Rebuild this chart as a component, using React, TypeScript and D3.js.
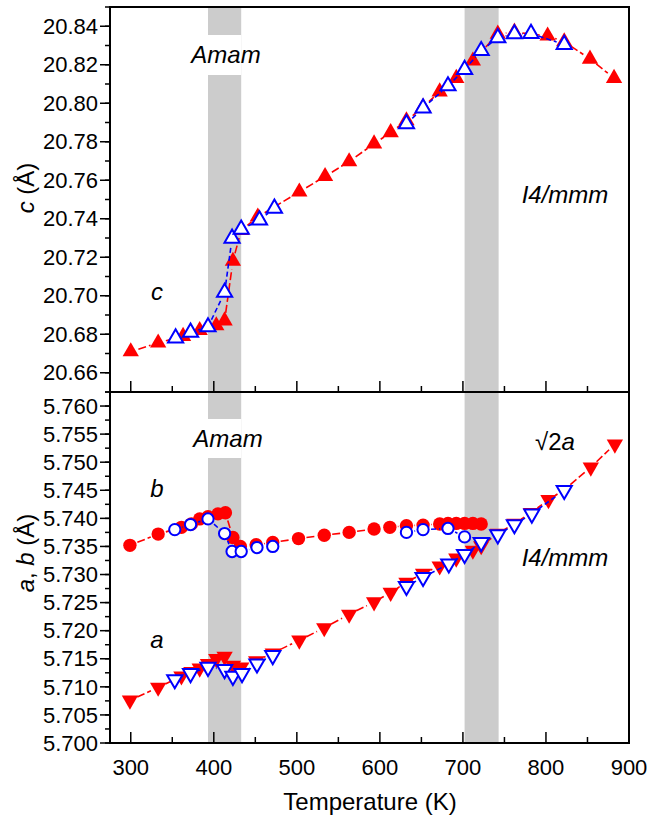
import { scaleLinear, symbol, symbolTriangle, symbolCircle, range, format } from 'd3';

// temperatures (K) and lattice constants (Å)
const cRedT = [300, 333, 363, 383, 403, 413, 423, 433, 453, 503, 534, 563, 593, 613, 632, 652, 672, 692, 712, 742, 762, 802, 822, 853, 882];
const cRedV = [20.671, 20.6755, 20.679, 20.682, 20.6845, 20.687, 20.718, 20.734, 20.741, 20.754, 20.762, 20.7697, 20.779, 20.7848, 20.791, 20.798, 20.806, 20.813, 20.822, 20.836, 20.837, 20.835, 20.832, 20.823, 20.813];
const cBlueT = [354, 372, 393, 413, 422, 433, 455, 473, 632, 652, 682, 702, 722, 742, 762, 782, 822];
const cBlueV = [20.678, 20.681, 20.6838, 20.7017, 20.7298, 20.7345, 20.7393, 20.7454, 20.7893, 20.7975, 20.809, 20.8175, 20.8273, 20.834, 20.836, 20.8362, 20.8305];

const bRedT = [299, 333, 361, 373, 383, 393, 405, 414, 423, 432, 451, 471, 502, 533, 563, 593, 612, 632, 652, 672, 682, 692, 702, 712, 722];
const bRedV = [5.7352, 5.7372, 5.7384, 5.739, 5.7399, 5.7403, 5.7408, 5.741, 5.7366, 5.735, 5.7353, 5.7357, 5.7364, 5.737, 5.7375, 5.7381, 5.7384, 5.7387, 5.7388, 5.739, 5.7391, 5.7391, 5.7391, 5.7391, 5.739];
const bBlueT = [353, 372, 393, 413, 422, 433, 452, 471, 632, 652, 682, 702];
const bBlueV = [5.738, 5.7389, 5.7399, 5.7373, 5.7341, 5.7341, 5.7348, 5.735, 5.7375, 5.738, 5.7382, 5.7367];

const aRedT = [299, 333, 361, 373, 383, 393, 403, 413, 423, 433, 451, 471, 503, 533, 563, 593, 613, 632, 652, 672, 692, 712, 722, 742, 762, 782, 803, 822, 854, 883];
const aRedV = [5.7076, 5.7099, 5.7119, 5.7127, 5.7133, 5.7141, 5.715, 5.7154, 5.7138, 5.7135, 5.7146, 5.716, 5.7183, 5.7205, 5.7229, 5.7251, 5.7268, 5.7286, 5.7302, 5.7315, 5.7329, 5.7343, 5.7351, 5.7373, 5.7391, 5.741, 5.7433, 5.7451, 5.7491, 5.7532];
const aBlueT = [353, 372, 393, 413, 423, 434, 452, 471, 632, 652, 683, 702, 722, 742, 762, 783, 822];
const aBlueV = [5.7113, 5.7124, 5.7135, 5.7131, 5.7119, 5.7124, 5.7141, 5.7156, 5.7279, 5.7295, 5.7319, 5.7336, 5.7357, 5.7371, 5.7389, 5.7408, 5.745];

const bands = [[393, 433], [702, 743]];
const xTicks = [300, 400, 500, 600, 700, 800, 900];

const FONT = 'Liberation Sans, Arial, sans-serif';
const L = 110, R = 629, T = 7, M = 392, B = 743;

const x = scaleLinear().domain([275, 900]).range([L, R]);
const yc = scaleLinear().domain([20.65, 20.85]).range([M, T]);
const yab = scaleLinear().domain([5.7, 5.7625]).range([B, M]);

const triUp = symbol().type(symbolTriangle).size(115)()!;
const triUpOpen = symbol().type(symbolTriangle).size(100)()!;
const dot = symbol().type(symbolCircle).size(140)()!;
const dotOpen = symbol().type(symbolCircle).size(100)()!;

// connecting line with a gap around each marker (Origin style); no line across missing runs
function gapLine(ts: number[], vs: number[], y: (v: number) => number, gap: number) {
  let d = '';
  for (let i = 0; i < ts.length - 1; i++) {
    if (ts[i + 1] - ts[i] > 100) continue;
    const x1 = x(ts[i]), y1 = y(vs[i]), x2 = x(ts[i + 1]), y2 = y(vs[i + 1]);
    const len = Math.hypot(x2 - x1, y2 - y1);
    if (len <= 2 * gap) continue;
    const ux = (x2 - x1) / len, uy = (y2 - y1) / len;
    d += `M${x1 + ux * gap},${y1 + uy * gap}L${x2 - ux * gap},${y2 - uy * gap}`;
  }
  return d;
}

function Series({ ts, vs, y, path, rot, fill, stroke, dash }: any) {
  return (
    <g>
      <path d={gapLine(ts, vs, y, 8)} fill="none" stroke={stroke} strokeWidth={1.6} strokeDasharray={dash} />
      {ts.map((t: number, i: number) => (
        <path key={i} d={path} transform={`translate(${x(t)},${y(vs[i])}) rotate(${rot})`}
          fill={fill} stroke={fill === 'white' ? stroke : 'none'} strokeWidth={2} />
      ))}
    </g>
  );
}

function LeftAxis({ y, lo, hi, step, fmt }: any) {
  const majors = range(0, Math.round((hi - lo) / step) + 1).map(i => lo + i * step);
  const [d0, d1] = y.domain();
  const minors = range(0, Math.round((d1 - d0) / (step / 2)) + 1).map((i: number) => d0 + i * step / 2);
  return (
    <g>
      {minors.map((v: number, i: number) => (
        <line key={'m' + i} x1={L - 5} x2={L} y1={y(v)} y2={y(v)} stroke="black" strokeWidth={1.5} />
      ))}
      {majors.map((v: number, i: number) => (
        <g key={i}>
          <line x1={L - 10} x2={L} y1={y(v)} y2={y(v)} stroke="black" strokeWidth={1.5} />
          <text x={L - 12} y={y(v)} dy="0.35em" textAnchor="end" fontSize={22} fontFamily={FONT}>{format(fmt)(v)}</text>
        </g>
      ))}
    </g>
  );
}

function XTicks({ yb }: { yb: number }) {
  return (
    <g>
      {range(300, 901, 50).map((t: number) => (
        <line key={t} x1={x(t)} x2={x(t)} y1={yb} y2={yb - (t % 100 === 0 ? 11 : 6)} stroke="black" strokeWidth={1.5} />
      ))}
    </g>
  );
}

export default function App() {
  const italic = { fontFamily: FONT, fontStyle: 'italic', fontSize: 24 } as const;
  return (
    <div style={{ position: 'absolute', left: 0, top: 0 }}>
      <svg width={650} height={817} style={{ display: 'block', background: 'white' }}>
        {bands.map(([a, b], i) => (
          <rect key={i} x={x(a)} width={x(b) - x(a)} y={T} height={B - T} fill="#cccccc" />
        ))}
        <rect x={x(bands[0][0])} width={x(bands[0][1]) - x(bands[0][0])} y={35} height={40} fill="white" />
        <rect x={x(bands[0][0])} width={x(bands[0][1]) - x(bands[0][0])} y={419} height={39} fill="white" />

        <Series ts={cRedT} vs={cRedV} y={yc} path={triUp} rot={0} fill="#ff0000" stroke="#ff0000" dash="8 3" />
        <Series ts={cBlueT} vs={cBlueV} y={yc} path={triUpOpen} rot={0} fill="white" stroke="#0000ff" dash="5 3" />
        <Series ts={bRedT} vs={bRedV} y={yab} path={dot} rot={0} fill="#ff0000" stroke="#ff0000" dash="8 3" />
        <Series ts={bBlueT} vs={bBlueV} y={yab} path={dotOpen} rot={0} fill="white" stroke="#0000ff" dash="5 3" />
        <Series ts={aRedT} vs={aRedV} y={yab} path={triUp} rot={180} fill="#ff0000" stroke="#ff0000" dash="8 3" />
        <Series ts={aBlueT} vs={aBlueV} y={yab} path={triUpOpen} rot={180} fill="white" stroke="#0000ff" dash="5 3" />

        <XTicks yb={M} />
        <XTicks yb={B} />
        <LeftAxis y={yc} lo={20.66} hi={20.84} step={0.02} fmt=".2f" />
        <LeftAxis y={yab} lo={5.7} hi={5.76} step={0.005} fmt=".3f" />
        <rect x={L} y={T} width={R - L} height={B - T} fill="none" stroke="black" strokeWidth={2} />
        <line x1={L} x2={R} y1={M} y2={M} stroke="black" strokeWidth={2} />

        {xTicks.map(t => (
          <text key={t} x={x(t)} y={775} textAnchor="middle" fontSize={22} fontFamily={FONT}>{t}</text>
        ))}
        <text x={370} y={810} textAnchor="middle" fontSize={24} fontFamily={FONT}>Temperature (K)</text>
        <text transform="translate(34,188) rotate(-90)" textAnchor="middle" fontSize={24} fontFamily={FONT}>
          <tspan fontStyle="italic">c</tspan> (Å)
        </text>
        <text transform="translate(34,553) rotate(-90)" textAnchor="middle" fontSize={24} fontFamily={FONT}>
          <tspan fontStyle="italic">a</tspan>, <tspan fontStyle="italic">b</tspan> (Å)
        </text>

        <text x={226} y={63} textAnchor="middle" {...italic}>Amam</text>
        <text x={228} y={447} textAnchor="middle" {...italic}>Amam</text>
        <text x={565} y={203} textAnchor="middle" {...italic}>I4/mmm</text>
        <text x={565} y={566} textAnchor="middle" {...italic}>I4/mmm</text>
        <text x={157} y={300} textAnchor="middle" {...italic}>c</text>
        <text x={157} y={497} textAnchor="middle" {...italic}>b</text>
        <text x={157} y={648} textAnchor="middle" {...italic}>a</text>
        <text x={555} y={450} textAnchor="middle" fontSize={24} fontFamily={FONT}>√2<tspan fontStyle="italic">a</tspan></text>
      </svg>
    </div>
  );
}
